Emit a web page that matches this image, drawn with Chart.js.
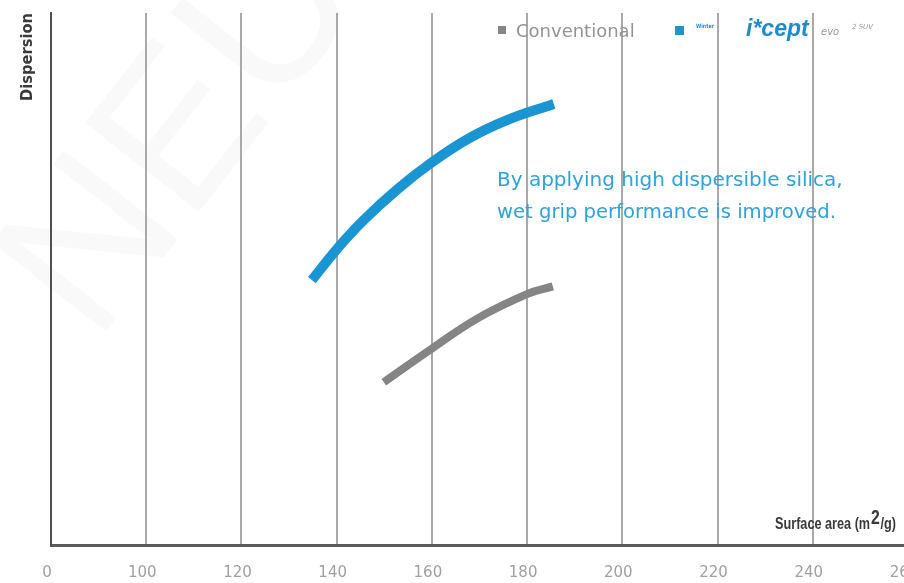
<!DOCTYPE html>
<html>
<head>
<meta charset="utf-8">
<script src="https://cdn.jsdelivr.net/npm/chart.js@4/dist/chart.umd.min.js"></script>
<style>
  html, body { margin: 0; padding: 0; background: #fff; overflow: hidden; }
  #wrap { position: relative; width: 912px; height: 583px; }
</style>
</head>
<body>
<div id="wrap"><canvas id="c" width="912" height="583"></canvas></div>
<script>
// Axis ticks: the first position is labelled "0" (broken axis), the rest are real values
const tickValues = [80, 100, 120, 140, 160, 180, 200, 220, 240, 260];
const tickLabels = ['0', '100', '120', '140', '160', '180', '200', '220', '240', '260'];

// Premium tyre compound (high dispersible silica)
const premiumArea = [134.8, 140.2, 145.7, 152.8, 159.8, 167.5, 175.9, 185.6];
const premiumDispersion = [49.8, 55.8, 61.1, 66.9, 71.8, 76.3, 79.9, 82.9];

// Conventional compound
const conventionalArea = [149.9, 159.8, 169.6, 180.1, 185.4];
const conventionalDispersion = [30.6, 36.8, 42.6, 47.2, 48.6];

const BLUE = '#1a95d4';
const GREY = '#858585';

const toPoints = (xs, ys) => xs.map((x, i) => ({ x, y: ys[i] }));

const decorations = {
  id: 'decorations',
  beforeDraw(chart) {
    const { ctx } = chart;
    ctx.save();
    // faint background watermark
    ctx.translate(95, 345);
    ctx.rotate(-52 * Math.PI / 180);
    ctx.font = '210px "Liberation Sans", sans-serif';
    ctx.fillStyle = 'rgba(0,0,0,0.022)';
    ctx.textBaseline = 'alphabetic';
    ctx.fillText('NEU.', 0, 0);
    ctx.restore();
  },
  afterDraw(chart) {
    const { ctx } = chart;
    ctx.save();

    // vertical axis title
    ctx.save();
    ctx.translate(28, 57);
    ctx.rotate(-Math.PI / 2);
    ctx.font = 'bold 15px "DejaVu Sans", sans-serif';
    ctx.fillStyle = '#3a3a3a';
    ctx.textAlign = 'center';
    ctx.textBaseline = 'middle';
    ctx.fillText('Dispersion', 0, 0, 88);
    ctx.restore();

    // horizontal axis title: Surface area (m²/g), fitted to its box width
    ctx.save();
    ctx.fillStyle = '#3a3a3a';
    ctx.textBaseline = 'alphabetic';
    ctx.textAlign = 'left';
    const fMain = 'bold 16px "Liberation Sans", sans-serif';
    const fSup = 'bold 20px "Liberation Sans", sans-serif';
    const head = 'Surface area (m';
    const tail = '/g)';
    ctx.font = fMain;
    const wHead = ctx.measureText(head).width;
    const wTail = ctx.measureText(tail).width;
    ctx.font = fSup;
    const wSup = ctx.measureText('2').width;
    const total = wHead + wSup + wTail + 2;
    const k = 121 / total;
    ctx.translate(775, 529);
    ctx.scale(k, 1);
    ctx.font = fMain;
    ctx.fillText(head, 0, 0);
    ctx.font = fSup;
    ctx.fillText('2', wHead + 1, -5);
    ctx.font = fMain;
    ctx.fillText(tail, wHead + wSup + 2, 0);
    ctx.restore();

    // annotation
    ctx.fillStyle = '#2ea2de';
    ctx.font = '20px "DejaVu Sans", sans-serif';
    ctx.fillText('By applying high dispersible silica,', 497, 186, 361);
    ctx.fillText('wet grip performance is improved.', 497, 218, 339);

    // legend
    ctx.fillStyle = GREY;
    ctx.fillRect(498, 26, 8, 8);
    ctx.fillStyle = '#939393';
    ctx.font = '18px "DejaVu Sans", sans-serif';
    ctx.fillText('Conventional', 516, 37, 125);

    ctx.fillStyle = BLUE;
    ctx.fillRect(675, 26, 9, 9);
    ctx.font = 'bold 6px "DejaVu Sans", sans-serif';
    ctx.fillText('Winter', 696, 28, 18);
    ctx.fillStyle = '#1d8ccc';
    ctx.font = 'italic bold 23px "Liberation Sans", sans-serif';
    ctx.fillText('i*cept', 746, 36, 68);
    ctx.fillStyle = '#9a9a9a';
    ctx.font = 'italic 10px "DejaVu Sans", sans-serif';
    ctx.fillText('evo', 821, 35, 24);
    ctx.font = 'italic 7px "DejaVu Sans", sans-serif';
    ctx.fillText('2 SUV', 852, 29, 40);

    ctx.restore();
  }
};

new Chart(document.getElementById('c'), {
  type: 'line',
  data: {
    datasets: [
      {
        label: 'Conventional',
        data: toPoints(conventionalArea, conventionalDispersion),
        borderColor: GREY,
        borderWidth: 8,
        borderCapStyle: 'butt',
        pointRadius: 0,
        tension: 0.4,
        fill: false
      },
      {
        label: 'Winter i*cept evo2 SUV',
        data: toPoints(premiumArea, premiumDispersion),
        borderColor: BLUE,
        borderWidth: 10,
        borderCapStyle: 'butt',
        pointRadius: 0,
        tension: 0.4,
        fill: false
      }
    ]
  },
  options: {
    responsive: false,
    devicePixelRatio: 1,
    animation: false,
    layout: { padding: { left: 51, right: 4, top: 13, bottom: 0 } },
    plugins: { legend: { display: false }, tooltip: { enabled: false } },
    scales: {
      x: {
        type: 'linear',
        min: 80,
        max: 260,
        afterBuildTicks(scale) {
          scale.ticks = tickValues.map(v => ({ value: v }));
        },
        afterFit(scale) {
          scale.height = 38;
          scale.paddingLeft = 0;
          scale.paddingRight = 0;
        },
        ticks: {
          autoSkip: false,
          maxRotation: 0,
          padding: 19,
          labelOffset: -4,
          color: '#a0a0a0',
          font: { family: '"DejaVu Sans", sans-serif', size: 15 },
          callback: (v) => tickLabels[tickValues.indexOf(v)]
        },
        grid: {
          drawTicks: false,
          lineWidth: 2,
          color: (c) => (c.tick && c.tick.value === 80 ? 'rgba(0,0,0,0)' : '#a9a9a9')
        },
        border: { display: true, color: '#5c5c5c', width: 3 }
      },
      y: {
        min: 0,
        max: 100,
        afterFit(scale) { scale.width = 0; },
        ticks: { display: false },
        grid: { display: false },
        border: { display: true, color: '#505050', width: 2 }
      }
    }
  },
  plugins: [decorations]
});
</script>
</body>
</html>
